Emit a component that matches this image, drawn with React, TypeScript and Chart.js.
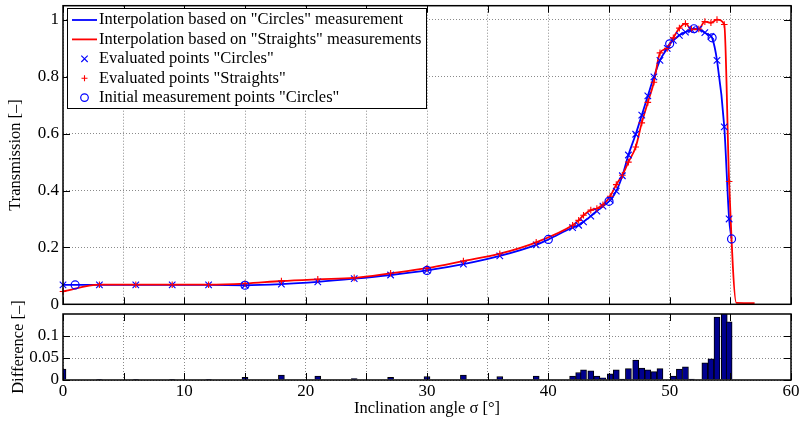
import React, { useEffect, useRef } from 'react';
import { Chart, registerables } from 'chart.js';

Chart.register(...registerables);

const FONT = "'Liberation Serif', 'Times New Roman', Times, serif";

// Evaluated angles (deg)
const evalX = [
  0, 3, 6, 9, 12, 15, 18, 21, 24, 27, 30, 33, 36, 39,
  42, 42.5, 42.9, 43.5, 44, 44.5, 45.1, 45.6, 46.1, 46.6, 47.2, 47.7, 48.2,
  48.7, 49.2, 49.8, 50.3, 50.8, 51.3, 51.8, 52.4, 52.9, 53.4, 53.9, 54.5, 54.9,
];
// Evaluated points "Circles"
const circlesEval = [
  0.068, 0.068, 0.068, 0.068, 0.068, 0.067, 0.071, 0.079, 0.09, 0.103, 0.119, 0.141, 0.17, 0.209,
  0.27, 0.278, 0.29, 0.31, 0.328, 0.345, 0.366, 0.398, 0.452, 0.525, 0.598, 0.665, 0.733,
  0.8, 0.858, 0.9, 0.928, 0.946, 0.957, 0.965, 0.968, 0.955, 0.942, 0.858, 0.624, 0.3,
];
// Evaluated points "Straights"
const straightsEval = [
  0.045, 0.069, 0.069, 0.069, 0.069, 0.073, 0.082, 0.088, 0.093, 0.109, 0.127, 0.152, 0.178, 0.218,
  0.278, 0.295, 0.313, 0.331, 0.337, 0.35, 0.38, 0.421, 0.454, 0.5, 0.553, 0.638, 0.71,
  0.781, 0.884, 0.9, 0.937, 0.971, 0.987, 0.967, 0.968, 0.994, 0.99, 1.001, 0.984, 0.432,
];
// Tail of the "Straights" interpolation (no markers)
const straightsTailX = [55.5, 57];
const straightsTailY = [0.005, 0.004];
// Initial measurement points "Circles"
const initialX = [1, 15, 30, 40, 45, 50, 52, 53.5, 55.1];
const initialY = [0.068, 0.067, 0.119, 0.228, 0.362, 0.916, 0.969, 0.937, 0.23];
// Difference (bottom panel)
const diffValues = [
  0.025, 0.001, 0.001, 0.001, 0.001, 0.006, 0.011, 0.009, 0.003, 0.006, 0.008, 0.011, 0.008, 0.009,
  0.009, 0.017, 0.023, 0.021, 0.009, 0.005, 0.014, 0.023, 0.002, 0.026, 0.045, 0.027, 0.023,
  0.019, 0.026, 0, 0.009, 0.025, 0.03, 0.002, 0, 0.039, 0.048, 0.143, 0.36, 0.132,
];

const xTicks = [0, 5, 10, 15, 20, 25, 30, 35, 40, 45, 50, 55, 60];
const yTicksTop = [0, 0.2, 0.4, 0.6, 0.8, 1];
const yTicksBottom = [0, 0.05, 0.1];

const legendLabels = [
  'Interpolation based on "Circles" measurement',
  'Interpolation based on "Straights" measurements',
  'Evaluated points "Circles"',
  'Evaluated points "Straights"',
  'Initial measurement points "Circles"',
];
const legendKinds = ['blueLine', 'redLine', 'cross', 'plus', 'circle'];

const BLUE = '#0000ff';
const RED = '#ff0000';
const BAR = '#00008f';
const GRID = '#8a8a8a';

const framePlugin = {
  id: 'mframe',
  afterDatasetsDraw(chart: any) {
    const { ctx, chartArea: a, scales } = chart;
    const L = 7;
    ctx.save();
    ctx.strokeStyle = '#000';
    ctx.lineWidth = 1;
    ctx.beginPath();
    for (const t of scales.x.ticks) {
      const px = Math.round(scales.x.getPixelForValue(t.value)) + 0.5;
      ctx.moveTo(px, a.bottom);
      ctx.lineTo(px, a.bottom - L);
      ctx.moveTo(px, a.top);
      ctx.lineTo(px, a.top + L);
    }
    for (const t of scales.y.ticks) {
      const py = Math.round(scales.y.getPixelForValue(t.value)) + 0.5;
      ctx.moveTo(a.left, py);
      ctx.lineTo(a.left + L, py);
      ctx.moveTo(a.right, py);
      ctx.lineTo(a.right - L, py);
    }
    ctx.stroke();
    ctx.lineWidth = 1.5;
    ctx.strokeRect(a.left, a.top, a.right - a.left, a.bottom - a.top);
    ctx.restore();
  },
};

const legendPlugin = {
  id: 'mlegend',
  afterDraw(chart: any) {
    const { ctx, chartArea: a } = chart;
    const bx = Math.round(a.left + 4);
    const by = Math.round(a.top + 2);
    const bw = 359;
    const bh = 100;
    ctx.save();
    ctx.fillStyle = '#fff';
    ctx.fillRect(bx, by, bw, bh);
    ctx.strokeStyle = '#000';
    ctx.lineWidth = 1;
    ctx.strokeRect(bx + 0.5, by + 0.5, bw, bh);
    ctx.font = `16.5px ${FONT}`;
    ctx.textBaseline = 'middle';
    ctx.textAlign = 'left';
    legendLabels.forEach((label, i) => {
      const cy = by + 12 + i * 19.4;
      const kind = legendKinds[i];
      const mx = bx + 17.5;
      ctx.beginPath();
      if (kind === 'blueLine' || kind === 'redLine') {
        ctx.strokeStyle = kind === 'blueLine' ? BLUE : RED;
        ctx.lineWidth = 1.8;
        ctx.moveTo(bx + 5, cy);
        ctx.lineTo(bx + 30, cy);
      } else if (kind === 'cross') {
        ctx.strokeStyle = BLUE;
        ctx.lineWidth = 1.1;
        ctx.moveTo(mx - 3.2, cy - 3.2);
        ctx.lineTo(mx + 3.2, cy + 3.2);
        ctx.moveTo(mx - 3.2, cy + 3.2);
        ctx.lineTo(mx + 3.2, cy - 3.2);
      } else if (kind === 'plus') {
        ctx.strokeStyle = RED;
        ctx.lineWidth = 1.1;
        ctx.moveTo(mx - 3, cy);
        ctx.lineTo(mx + 3, cy);
        ctx.moveTo(mx, cy - 3);
        ctx.lineTo(mx, cy + 3);
      } else {
        ctx.strokeStyle = BLUE;
        ctx.lineWidth = 1.2;
        ctx.arc(mx, cy, 3.8, 0, Math.PI * 2);
      }
      ctx.stroke();
      ctx.fillStyle = '#000';
      ctx.fillText(label, bx + 32, cy);
    });
    ctx.restore();
  },
};

const tickFont = { family: FONT, size: 17 };
const titleFont = { family: FONT, size: 16.5 };

export default function App() {
  const topRef = useRef<HTMLCanvasElement | null>(null);
  const botRef = useRef<HTMLCanvasElement | null>(null);

  useEffect(() => {
    if (!topRef.current || !botRef.current) return;

    const evalPts = evalX.map((x, i) => ({ x, y: circlesEval[i] }));
    const redPts = evalX.map((x, i) => ({ x, y: straightsEval[i] }));
    const initPts = initialX.map((x, i) => ({ x, y: initialY[i] }));
    const blueLine = [...evalPts];
    initPts.forEach((p) => {
      if (!blueLine.some((q) => Math.abs(q.x - p.x) < 1e-6)) blueLine.push(p);
    });
    blueLine.sort((p, q) => p.x - q.x);
    const redLine = [
      ...redPts,
      ...straightsTailX.map((x, i) => ({ x, y: straightsTailY[i] })),
    ];

    const setTicks = (vals: number[]) => (ax: any) => {
      ax.ticks = vals.map((v) => ({ value: v }));
    };

    const top = new Chart(topRef.current, {
      type: 'scatter',
      data: {
        datasets: [
          {
            data: initPts,
            pointStyle: 'circle',
            pointRadius: 4,
            pointBorderWidth: 1.2,
            borderColor: BLUE,
            backgroundColor: 'rgba(0,0,0,0)',
            showLine: false,
            clip: false as any,
          },
          {
            data: redPts,
            pointStyle: 'cross',
            pointRadius: 3.3,
            pointBorderWidth: 1.1,
            borderColor: RED,
            backgroundColor: RED,
            showLine: false,
            clip: false as any,
          },
          {
            data: evalPts,
            pointStyle: 'crossRot',
            pointRadius: 4.6,
            pointBorderWidth: 1.1,
            borderColor: BLUE,
            backgroundColor: BLUE,
            showLine: false,
            clip: false as any,
          },
          {
            data: redLine,
            showLine: true,
            pointRadius: 0,
            borderColor: RED,
            borderWidth: 1.8,
            cubicInterpolationMode: 'monotone',
            borderJoinStyle: 'round',
          },
          {
            data: blueLine,
            showLine: true,
            pointRadius: 0,
            borderColor: BLUE,
            borderWidth: 1.8,
            cubicInterpolationMode: 'monotone',
            borderJoinStyle: 'round',
          },
        ] as any,
      },
      options: {
        animation: false,
        responsive: false,
        devicePixelRatio: 1,
        events: [],
        layout: { padding: { left: 0, right: 8, top: 5, bottom: 0 } },
        plugins: { legend: { display: false }, tooltip: { enabled: false } },
        scales: {
          x: {
            type: 'linear',
            min: 0,
            max: 60,
            afterBuildTicks: setTicks(xTicks),
            ticks: { display: false },
            grid: { color: GRID, lineWidth: 1, drawTicks: false },
            border: { display: false, dash: [1, 2] },
            afterFit: (ax: any) => {
              ax.height = 5;
              ax.paddingLeft = 0;
              ax.paddingRight = 0;
            },
          },
          y: {
            type: 'linear',
            min: 0,
            max: 1.05,
            afterBuildTicks: setTicks(yTicksTop),
            ticks: {
              font: tickFont,
              color: '#000',
              padding: 4,
              callback: (v: any) => String(v),
            },
            grid: { color: GRID, lineWidth: 1, drawTicks: false },
            border: { display: false, dash: [1, 2] },
            title: {
              display: true,
              text: 'Transmission [–]',
              font: titleFont,
              color: '#000',
              padding: { top: 6, bottom: 0 },
            },
            afterFit: (ax: any) => {
              ax.width = 63;
              ax.paddingTop = 0;
              ax.paddingBottom = 0;
            },
          },
        } as any,
      },
      plugins: [framePlugin, legendPlugin],
    });

    const bot = new Chart(botRef.current, {
      type: 'bar',
      data: {
        datasets: [
          {
            data: evalX.map((x, i) => ({ x, y: diffValues[i] })),
            backgroundColor: BAR,
            borderColor: '#000',
            borderWidth: 1,
            barThickness: 6,
            clip: 0 as any,
          },
        ] as any,
      },
      options: {
        animation: false,
        responsive: false,
        devicePixelRatio: 1,
        events: [],
        layout: { padding: { left: 0, right: 8, top: 24, bottom: 0 } },
        plugins: { legend: { display: false }, tooltip: { enabled: false } },
        scales: {
          x: {
            type: 'linear',
            min: 0,
            max: 60,
            offset: false,
            afterBuildTicks: setTicks(xTicks),
            ticks: {
              font: tickFont,
              color: '#000',
              padding: 1.5,
              autoSkip: false,
              maxRotation: 0,
              minRotation: 0,
              callback: (v: any) => (Number(v) % 10 === 0 ? String(v) : ''),
            },
            grid: { color: GRID, lineWidth: 1, drawTicks: false, offset: false },
            border: { display: false, dash: [1, 2] },
            title: {
              display: true,
              text: 'Inclination angle σ [°]',
              font: titleFont,
              color: '#000',
              padding: { top: 0, bottom: 2.4 },
            },
            afterFit: (ax: any) => {
              ax.height = 41;
              ax.paddingLeft = 0;
              ax.paddingRight = 0;
            },
          },
          y: {
            type: 'linear',
            min: 0,
            max: 0.15,
            afterBuildTicks: setTicks(yTicksBottom),
            ticks: {
              font: tickFont,
              color: '#000',
              padding: 4,
              callback: (v: any) => String(v),
            },
            grid: { color: GRID, lineWidth: 1, drawTicks: false },
            border: { display: false, dash: [1, 2] },
            title: {
              display: true,
              text: 'Difference [–]',
              font: titleFont,
              color: '#000',
              padding: { top: 9, bottom: 0 },
            },
            afterFit: (ax: any) => {
              ax.width = 63;
              ax.paddingTop = 0;
              ax.paddingBottom = 0;
            },
          },
        } as any,
      },
      plugins: [framePlugin],
    });

    return () => {
      top.destroy();
      bot.destroy();
    };
  }, []);

  return (
    <div
      style={{
        position: 'fixed',
        left: 0,
        top: 0,
        width: 799,
        height: 421,
        background: '#fff',
        overflow: 'hidden',
      }}
    >
      <canvas
        ref={topRef}
        width={799}
        height={310}
        style={{ position: 'absolute', left: 0, top: 0, width: 799, height: 310 }}
      />
      <canvas
        ref={botRef}
        width={799}
        height={131}
        style={{ position: 'absolute', left: 0, top: 290, width: 799, height: 131 }}
      />
    </div>
  );
}
